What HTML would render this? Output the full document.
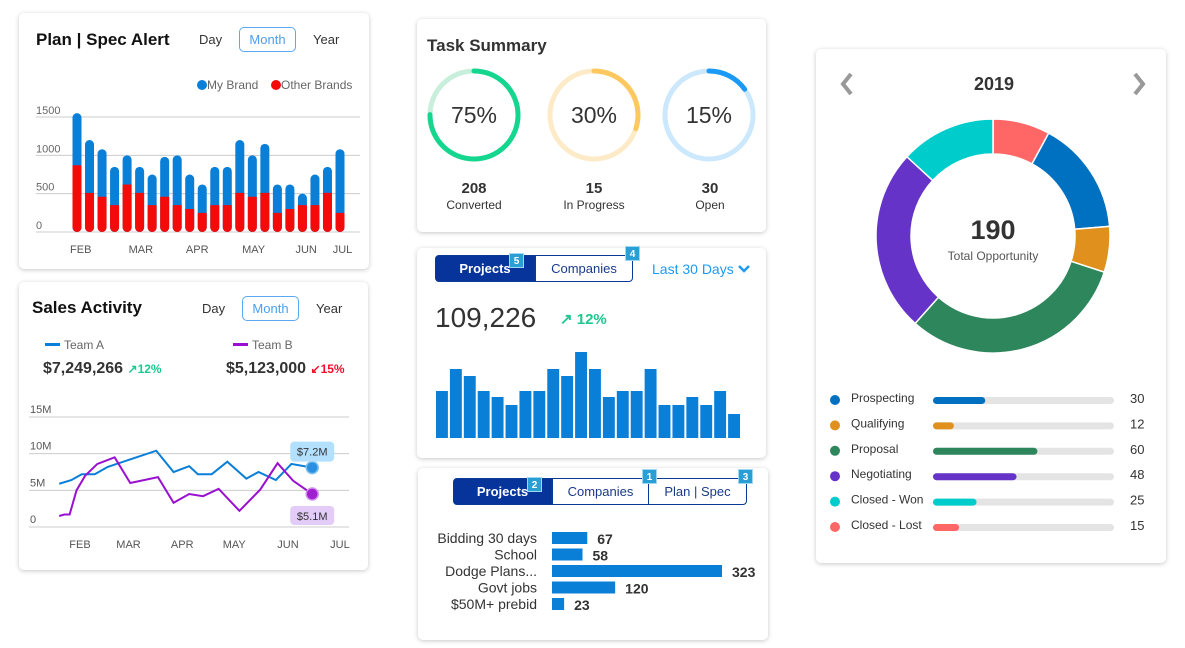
<!DOCTYPE html>
<html><head><meta charset="utf-8">
<style>
*{box-sizing:border-box;margin:0;padding:0}
body{width:1185px;height:648px;background:#fff;font-family:"Liberation Sans",sans-serif;position:relative;overflow:hidden;color:#222}
.card{position:absolute;background:#fff;border-radius:5px;box-shadow:0 1px 5px rgba(0,0,0,.22)}
.abs{position:absolute;white-space:nowrap}
.title{font-weight:bold;font-size:17px;color:#111}
.seg{font-size:13px;color:#333}
.mbtn{position:absolute;border:1px solid #5aa9f0;border-radius:5px;color:#4a9fef;font-size:13px;text-align:center}
.tab{position:absolute;font-size:13px;text-align:center;color:#1a3a8a;border:1px solid #0a3a96}
.tab.on{background:#06349a;color:#fff;font-weight:bold}
.badge{position:absolute;width:15px;height:15px;background:#2a9fd6;color:#fff;font-size:10px;font-weight:bold;text-align:center;line-height:15px;border:1px solid #9fd8f2}
svg#ov{position:absolute;left:0;top:0;pointer-events:none}
</style></head><body>

<div class="card" style="left:19px;top:13px;width:350px;height:256px"></div>
<div class="card" style="left:19px;top:282px;width:349px;height:288px"></div>
<div class="card" style="left:417px;top:19px;width:349px;height:213px"></div>
<div class="card" style="left:417px;top:248px;width:349px;height:210px"></div>
<div class="card" style="left:418px;top:468px;width:350px;height:172px"></div>
<div class="card" style="left:816px;top:49px;width:350px;height:514px"></div>

<!-- Card 1 -->
<div class="abs title" style="left:36px;top:30px">Plan | Spec Alert</div>
<div class="abs seg" style="left:199px;top:32px">Day</div>
<div class="mbtn" style="left:239px;top:27px;width:57px;height:25px;line-height:23px">Month</div>
<div class="abs seg" style="left:313px;top:32px">Year</div>
<div class="abs" style="left:197px;top:78px;font-size:12px;color:#666"><span style="display:inline-block;width:10px;height:10px;border-radius:50%;background:#0a7fd8;vertical-align:-1px"></span>My Brand</div>
<div class="abs" style="left:271px;top:78px;font-size:12px;color:#666"><span style="display:inline-block;width:10px;height:10px;border-radius:50%;background:#f50a0a;vertical-align:-1px"></span>Other Brands</div>

<!-- Card 2 -->
<div class="abs title" style="left:32px;top:298px">Sales Activity</div>
<div class="abs seg" style="left:202px;top:301px">Day</div>
<div class="mbtn" style="left:242px;top:296px;width:57px;height:25px;line-height:23px">Month</div>
<div class="abs seg" style="left:316px;top:301px">Year</div>
<div class="abs" style="left:45px;top:338px;font-size:12px;color:#666"><span style="display:inline-block;width:15px;height:3px;background:#0a7fd8;vertical-align:3px;margin-right:4px"></span>Team A</div>
<div class="abs" style="left:233px;top:338px;font-size:12px;color:#666"><span style="display:inline-block;width:15px;height:3px;background:#9a10d0;vertical-align:3px;margin-right:4px"></span>Team B</div>
<div class="abs" style="left:43px;top:360px;font-size:16px;font-weight:bold;color:#333">$7,249,266 <span style="font-size:12px;color:#1dc98f">&#x2197;12%</span></div>
<div class="abs" style="left:226px;top:360px;font-size:16px;font-weight:bold;color:#333">$5,123,000 <span style="font-size:12px;color:#f0102a">&#x2199;15%</span></div>

<!-- Card 3 -->
<div class="abs title" style="left:427px;top:36px;color:#333">Task Summary</div>
<div class="abs" style="left:424px;top:180px;width:100px;text-align:center;font-weight:bold;font-size:15px;color:#333">208</div>
<div class="abs" style="left:424px;top:198px;width:100px;text-align:center;font-size:12px;color:#333">Converted</div>
<div class="abs" style="left:544px;top:180px;width:100px;text-align:center;font-weight:bold;font-size:15px;color:#333">15</div>
<div class="abs" style="left:544px;top:198px;width:100px;text-align:center;font-size:12px;color:#333">In Progress</div>
<div class="abs" style="left:660px;top:180px;width:100px;text-align:center;font-weight:bold;font-size:15px;color:#333">30</div>
<div class="abs" style="left:660px;top:198px;width:100px;text-align:center;font-size:12px;color:#333">Open</div>

<!-- Card 4 -->
<div class="tab on" style="left:435px;top:255px;width:100px;height:27px;line-height:25px;border-radius:4px 0 0 4px">Projects</div>
<div class="tab" style="left:535px;top:255px;width:98px;height:27px;line-height:25px;border-radius:0 4px 4px 0">Companies</div>
<div class="badge" style="left:509px;top:253px">5</div>
<div class="badge" style="left:625px;top:246px">4</div>
<div class="abs" style="left:652px;top:261px;font-size:14px;color:#1e9af0">Last 30 Days</div>
<div class="abs" style="left:435px;top:302px;font-size:28px;color:#333">109,226</div>
<div class="abs" style="left:560px;top:310px;font-size:15px;font-weight:bold;color:#1dc98f">&#x2197; 12%</div>

<!-- Card 5 -->
<div class="tab on" style="left:453px;top:478px;width:99px;height:27px;line-height:25px;border-radius:4px 0 0 4px">Projects</div>
<div class="tab" style="left:552px;top:478px;width:97px;height:27px;line-height:25px">Companies</div>
<div class="tab" style="left:648px;top:478px;width:99px;height:27px;line-height:25px;border-radius:0 4px 4px 0">Plan | Spec</div>
<div class="badge" style="left:527px;top:477px">2</div>
<div class="badge" style="left:642px;top:469px">1</div>
<div class="badge" style="left:738px;top:469px">3</div>

<!-- Card 6 -->
<div class="abs" style="left:974px;top:74px;font-size:18px;font-weight:bold;color:#333">2019</div>
<div class="abs" style="left:943px;top:215px;width:100px;text-align:center;font-size:27px;font-weight:bold;color:#333">190</div>
<div class="abs" style="left:933px;top:249px;width:120px;text-align:center;font-size:12px;color:#555">Total Opportunity</div>

<svg id="ov" width="1185" height="648" xmlns="http://www.w3.org/2000/svg" font-family="Liberation Sans, sans-serif">
<polyline points="851,74 843,84 851,94" fill="none" stroke="#999" stroke-width="4"/>
<polyline points="1135,74 1143,84 1135,94" fill="none" stroke="#999" stroke-width="4"/>
<polyline points="739,266 744,271 749,266" fill="none" stroke="#1e9af0" stroke-width="2.5"/>
</svg>

<script>
// ---- Plan | Spec Alert stacked bars
const brandTotals = [1550,1200,1080,850,1000,850,750,980,1000,750,620,850,850,1200,1000,1150,620,620,500,750,850,1080];
const otherBrands = [870,510,460,350,620,510,350,460,350,300,250,350,350,510,460,510,250,300,350,350,510,250];
const barYTicks = [0,500,1000,1500];
const barMonths = ["FEB","MAR","APR","MAY","JUN","JUL"];
const barMonthPos = [0.3,5.1,9.6,14.1,18.3,21.2];
// ---- Sales activity lines
const teamADays = [19,26,32,39.5,47,61,75,85,94,99,107,116,127,134,144,153,165];
const teamAVals = [5.9,6.4,7.2,7.2,8.2,9.3,10.4,7.5,8.3,7.2,7.2,8.9,6.6,7.5,6.4,8.6,8.1];
const teamBDays = [19,22,25,29,34,41,51,60,76,85,94,102,111,123,135,145,154,165];
const teamBVals = [1.5,1.7,1.7,5,7,8.6,9.5,6,6.8,3.3,4.5,4.2,5.2,2.2,5.1,8.7,6.3,4.5];
const lineYTicks = [0,5,10,15];
const lineYLabels = ["0","5M","10M","15M"];
const lineMonths = ["FEB","MAR","APR","MAY","JUN","JUL"];
const lineMonthDays = [31,59,90,120,151,181];
const teamALabel = "$7.2M", teamBLabel = "$5.1M";
// ---- Task summary
const taskPercents = [75,30,15];
const taskLabels = ["75%","30%","15%"];
// ---- Projects trend
const trendVals = [47,69,62,47,41,33,47,47,69,62,86,69,41,47,47,69,33,33,41,33,47,24];
// ---- Projects breakdown
const catNames = ["Bidding 30 days","School","Dodge Plans...","Govt jobs","$50M+ prebid"];
const catVals = [67,58,323,120,23];
// ---- Opportunity
const stageNames = ["Prospecting","Qualifying","Proposal","Negotiating","Closed - Won","Closed - Lost"];
const stageVals = [30,12,60,48,25,15];

const NS="http://www.w3.org/2000/svg";
const svg=document.getElementById('ov');
function mk(tag,attrs,parent){const e=document.createElementNS(NS,tag);for(const k in attrs)e.setAttribute(k,attrs[k]);(parent||svg).appendChild(e);return e;}
function txt(x,y,s,attrs){const t=mk('text',Object.assign({x:x,y:y},attrs||{}));t.textContent=s;return t;}

// Chart 1
(function(){
  const y0=232, pxPer=115/1500, x0=77, step=(340-77)/21;
  const ys=v=>y0-v*pxPer, xs=i=>x0+i*step;
  barYTicks.forEach(t=>{
    const l=mk('line',{x1:36,x2:360,y1:ys(t),y2:ys(t),stroke:'#ccc','stroke-width':1});
    
    
    const tt=txt(36,ys(t)-3,String(t),{'font-size':11,fill:'#666'});
    
    
  });
  brandTotals.forEach((v,i)=>{
    const w=9, x=xs(i)-w/2;
    const b=mk('rect',{x:x,y:ys(v),width:w,height:ys(0)-ys(v),rx:4.5,fill:'#0a7fd8'});
    
    
    const o=otherBrands[i];
    const r=mk('path',{d:`M${x} ${ys(o)}H${x+w}V${ys(0)-4.5}A4.5 4.5 0 0 1 ${x} ${ys(0)-4.5}Z`,fill:'#f50a0a'});
    
    
  });
  barMonths.forEach((m,i)=>{
    const t=txt(xs(barMonthPos[i]),253,m,{'font-size':11,fill:'#555','text-anchor':'middle'});
    
    
  });
})();

// Chart 2
(function(){
  const y0=527, pxPer=110/15, xd=d=>80+(d-31)*1.733, ys=v=>y0-v*pxPer;
  lineYTicks.forEach((t,i)=>{
    const l=mk('line',{x1:29,x2:349,y1:ys(t),y2:ys(t),stroke:'#ccc','stroke-width':1});
    
    
    const tt=txt(30,ys(t)-4,lineYLabels[i],{'font-size':11,fill:'#555'});
    
    
  });
  lineMonths.forEach((m,i)=>{
    const t=txt(xd(lineMonthDays[i]),548,m,{'font-size':11,fill:'#555','text-anchor':'middle'});
    
    
  });
  const pa=mk('polyline',{points:teamADays.map((d,i)=>xd(d)+','+ys(teamAVals[i])).join(' '),fill:'none',stroke:'#0a7fd8','stroke-width':2});
  
  
  const pb=mk('polyline',{points:teamBDays.map((d,i)=>xd(d)+','+ys(teamBVals[i])).join(' '),fill:'none',stroke:'#9a10d0','stroke-width':2});
  
  
  const la=teamADays.length-1, lb=teamBDays.length-1;
  const ax=xd(teamADays[la]), ay=ys(teamAVals[la]), bx=xd(teamBDays[lb]), by=ys(teamBVals[lb]);
  const ca=mk('circle',{cx:ax,cy:ay,r:6,fill:'#2a8fe0',stroke:'#7cc0f0','stroke-width':1.5});
  
  
  const cb=mk('circle',{cx:bx,cy:by,r:6,fill:'#a020d0',stroke:'#d08ef0','stroke-width':1.5});
  
  
  const tA=mk('rect',{x:ax-22,y:ay-26,width:44,height:20,rx:4,fill:'#b3e0ff'});
  
  
  const la1=txt(ax,ay-12,teamALabel,{'font-size':11,fill:'#333','text-anchor':'middle'});
  
  
  const tB=mk('rect',{x:bx-22,y:by+12,width:44,height:19,rx:4,fill:'#e3ccf7'});
  
  
  const lb1=txt(bx,by+26,teamBLabel,{'font-size':11,fill:'#333','text-anchor':'middle'});
  
  
})();

// Task rings
(function(){
  const cx=[474,594,709], cy=115, r=44, C=2*Math.PI*r;
  const track=['#c8eedc','#fdebc8','#cce8fd'], col=['#14d68f','#fdc860','#1a9af5'];
  taskPercents.forEach((p,i)=>{
    const t=mk('circle',{cx:cx[i],cy:cy,r:r,fill:'none',stroke:track[i],'stroke-width':5});
    
    
    const a=mk('circle',{cx:cx[i],cy:cy,r:r,fill:'none',stroke:col[i],'stroke-width':5,'stroke-linecap':'round','stroke-dasharray':(C*p/100)+' '+C,transform:`rotate(-90 ${cx[i]} ${cy})`});
    
    
    const tx=txt(cx[i],cy+8,taskLabels[i],{'font-size':23,fill:'#333','text-anchor':'middle'});
    
    
  });
})();

// Trend bars
(function(){
  const y0=438, x0=436, step=(742-436)/22, w=step-2, maxV=86, maxH=86;
  trendVals.forEach((v,i)=>{
    const h=v/maxV*maxH;
    const b=mk('rect',{x:x0+i*step,y:y0-h,width:w,height:h,fill:'#0a7fd8'});
    
    
  });
})();

// Horizontal bars
(function(){
  const x0=552, pxPer=170/323, y0=538, step=16.5;
  catNames.forEach((n,i)=>{
    const y=y0+i*step, w=catVals[i]*pxPer;
    const l=txt(537,y+5,n,{'font-size':14,fill:'#333','text-anchor':'end'});
    
    
    const b=mk('rect',{x:x0,y:y-6,width:w,height:12,fill:'#0a7fd8'});
    
    
    const v=txt(x0+w+10,y+6,String(catVals[i]),{'font-size':14,'font-weight':'bold',fill:'#333'});
    
    
  });
})();

// Donut + legend
(function(){
  const cols=['#0070c0','#e0901c','#2e865c','#6633c8','#00cccc','#ff6666'];
  const cx=993, cy=236, R=117, r=82, total=stageVals.reduce((a,b)=>a+b,0);
  const order=[5,0,1,2,3,4];
  let ang=0;
  order.forEach(i=>{
    const a0=ang, a1=ang+stageVals[i]/total*2*Math.PI; ang=a1;
    const p=(a,rr)=>[cx+rr*Math.sin(a),cy-rr*Math.cos(a)];
    const [x1,y1]=p(a0,R),[x2,y2]=p(a1,R),[x3,y3]=p(a1,r),[x4,y4]=p(a0,r);
    const lg=(a1-a0)>Math.PI?1:0;
    const s=mk('path',{d:`M${x1} ${y1}A${R} ${R} 0 ${lg} 1 ${x2} ${y2}L${x3} ${y3}A${r} ${r} 0 ${lg} 0 ${x4} ${y4}Z`,fill:cols[i],stroke:'#fff','stroke-width':1.5});
    
    
  });
  const y0=399, step=25.4, bx=933, bw=181, maxV=104;
  stageNames.forEach((n,i)=>{
    const y=y0+i*step;
    const d=mk('circle',{cx:835,cy:y+1,r:5,fill:cols[i]});
    
    
    const t=txt(851,y+3,n,{'font-size':12,fill:'#333'});
    
    
    const tr=mk('rect',{x:bx,y:y-2,width:bw,height:7,rx:3.5,fill:'#e4e4e4'});
    
    
    const f=mk('rect',{x:bx,y:y-2,width:stageVals[i]/maxV*bw,height:7,rx:3.5,fill:cols[i]});
    
    
    const v=txt(1130,y+4,String(stageVals[i]),{'font-size':13,fill:'#333'});
    
    
  });
})();
</script>
</body></html>
